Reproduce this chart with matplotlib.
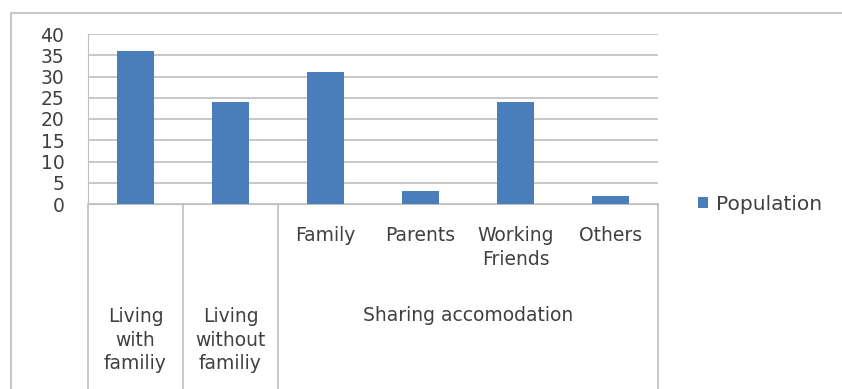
import matplotlib.pyplot as plt
from matplotlib.patches import Rectangle

plt.rcParams['font.family'] = ['DejaVu Sans']

# data
sub_labels = ["", "", "Family", "Parents", "Working\nFriends", "Others"]
group_labels = ["Living\nwith\nfamiliy", "Living\nwithout\nfamiliy", "Sharing accomodation"]
group_spans = [(0, 0), (1, 1), (2, 5)]
population = [36, 24, 31, 3, 24, 2]
series_name = "Population"

bar_color = '#4a7ebb'
grid_color = '#bfbfbf'
text_color = '#404040'
fs = 13.5

fig = plt.figure(figsize=(8.42, 3.89), dpi=100)
W, H = 842, 389
left, right, top, bottom = 88, 658, 34, 204
ax = fig.add_axes([left / W, 1 - bottom / H, (right - left) / W, (bottom - top) / H])

x = range(len(population))
bars = ax.bar(x, population, width=0.39, color=bar_color, zorder=3, label=series_name)

ax.set_xlim(-0.5, len(population) - 0.5)
ax.set_ylim(0, 40)
ax.set_yticks(range(0, 41, 5))
ax.set_xticks([])
ax.yaxis.grid(True, color=grid_color, lw=1.2, zorder=0)
ax.tick_params(axis='y', length=0, pad=17, labelsize=fs, labelcolor=text_color)
for s in ['top', 'right']:
    ax.spines[s].set_visible(False)
ax.spines['bottom'].set_color(grid_color)
ax.spines['left'].set_color(grid_color)

# category table below the axis
trans = ax.get_xaxis_transform()
bottom_frac = -(H - bottom) / (bottom - top) - 0.05
for b in [-0.5, 0.5, 1.5, len(population) - 0.5]:
    ax.plot([b, b], [0, bottom_frac], transform=trans, color=grid_color, lw=1.2, clip_on=False)

for i, lab in enumerate(sub_labels):
    if lab:
        ax.text(i, -0.13, lab, transform=trans, ha='center', va='top', fontsize=fs,
                color=text_color, linespacing=1.3)

for (a, b), lab in zip(group_spans, group_labels):
    yc = -0.8 if a == b else -0.655
    ax.text((a + b) / 2, yc, lab, transform=trans, ha='center', va='center', fontsize=fs,
            color=text_color, linespacing=1.3)

# legend
fig.legend(handles=[bars], labels=[series_name], loc='center left',
           bbox_to_anchor=(680 / W, 1 - 204 / H), frameon=False, fontsize=14.5,
           handlelength=0.5, handleheight=0.5, handletextpad=0.4, labelcolor=text_color)

# outer chart frame
fig.add_artist(Rectangle((11 / W, -0.1), 1.5, (H - 13) / H + 0.1, transform=fig.transFigure,
                         fill=False, ec='#c8c8c8', lw=1.5))

fig.savefig('out.png', dpi=100)
